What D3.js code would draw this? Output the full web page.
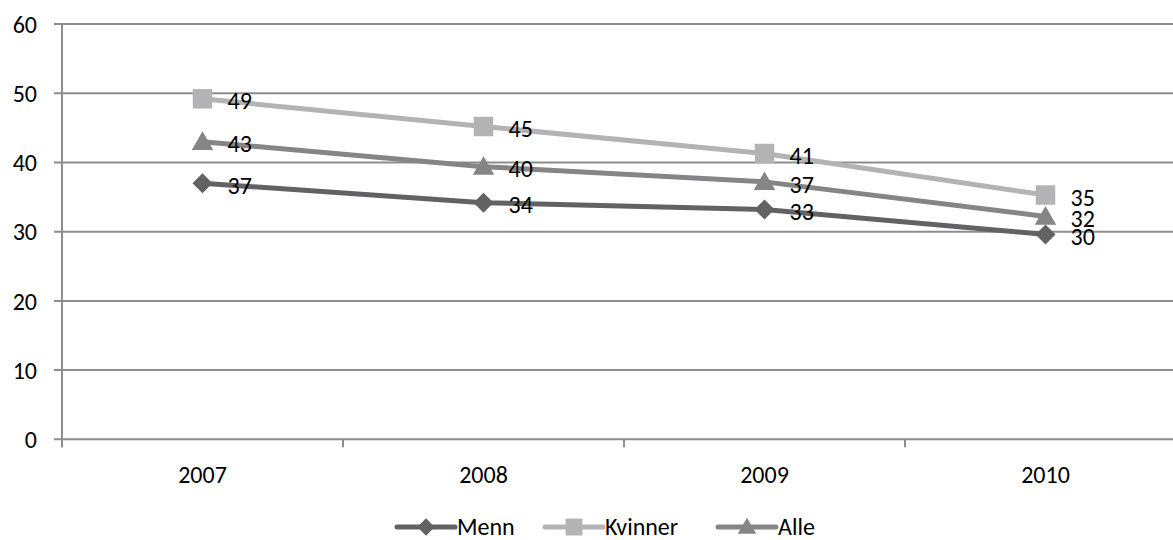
<!DOCTYPE html>
<html><head><meta charset="utf-8">
<script src="https://cdn.jsdelivr.net/npm/d3@7"></script>
<style>body{margin:0;background:#fff;overflow:hidden}svg{display:block;font-family:Carlito,Lato,sans-serif}</style>
</head><body>
<svg id="c" width="1173" height="540"></svg>
<script>
const categories = ["2007","2008","2009","2010"];
const menn = [37.0, 34.2, 33.2, 29.6];
const kvinner = [49.2, 45.2, 41.3, 35.3];
const alle = [43.0, 39.4, 37.2, 32.2];
const mennLabels = ["37","34","33","30"];
const kvinnerLabels = ["49","45","41","35"];
const alleLabels = ["43","40","37","32"];
const yTicks = [0,10,20,30,40,50,60];

const series = [
  {name:"Menn", values:menn, labels:mennLabels, color:"#626264", shape:"diamond"},
  {name:"Kvinner", values:kvinner, labels:kvinnerLabels, color:"#b3b3b5", shape:"square"},
  {name:"Alle", values:alle, labels:alleLabels, color:"#858587", shape:"triangle"}
];

const FS = 24;
const svg = d3.select("#c");
const x = d3.scaleBand().domain(categories).range([62, 1186]).padding(0);
const y = d3.scaleLinear().domain([0,60]).range([439.3, 24.1]);

// gridlines
svg.append("g").selectAll("line").data(yTicks).join("line")
  .attr("x1",54).attr("x2",1186)
  .attr("y1",d=>y(d)).attr("y2",d=>y(d))
  .attr("stroke","#8d8d8d").attr("stroke-width",2);

// y axis line
svg.append("line").attr("x1",62).attr("x2",62).attr("y1",y(60)).attr("y2",y(0)+8)
  .attr("stroke","#8d8d8d").attr("stroke-width",2);
// x tick marks
svg.append("g").selectAll("line").data(categories.concat(["end"])).join("line")
  .attr("x1",(d,i)=>62+i*x.bandwidth()).attr("x2",(d,i)=>62+i*x.bandwidth())
  .attr("y1",y(0)).attr("y2",y(0)+8)
  .attr("stroke","#8d8d8d").attr("stroke-width",2);

// y labels
svg.append("g").selectAll("text").data(yTicks).join("text")
  .attr("x",37).attr("y",d=>y(d)).attr("dy","0.36em")
  .attr("text-anchor","end").attr("font-size",FS).attr("fill","#000")
  .text(d=>d);
// x labels
svg.append("g").selectAll("text").data(categories).join("text")
  .attr("x",d=>x(d)+x.bandwidth()/2).attr("y",474).attr("dy","0.36em")
  .attr("text-anchor","middle").attr("font-size",FS).attr("fill","#000")
  .text(d=>d);

const cx = d=>x(d)+x.bandwidth()/2;
const symType = {diamond:d3.symbolSquare, square:d3.symbolSquare, triangle:d3.symbolTriangle};
const symSize = {diamond:200, square:380, triangle:200};
const symRot = {diamond:45, square:0, triangle:0};
const symDy = {diamond:0, square:0, triangle:2};

const line = d3.line().x((v,i)=>cx(categories[i])).y(v=>y(v));
series.forEach(s=>{
  svg.append("path").attr("d",line(s.values)).attr("fill","none")
    .attr("stroke",s.color).attr("stroke-width",5);
});
series.forEach(s=>{
  svg.append("g").selectAll("path").data(s.values).join("path")
    .attr("transform",(v,i)=>`translate(${cx(categories[i])},${y(v)+symDy[s.shape]}) rotate(${symRot[s.shape]})`)
    .attr("d",d3.symbol().type(symType[s.shape]).size(symSize[s.shape]))
    .attr("fill",s.color);
});
series.forEach(s=>{
  svg.append("g").selectAll("text").data(s.values).join("text")
    .attr("x",(v,i)=>cx(categories[i])+25).attr("y",v=>y(v)+2).attr("dy","0.36em")
    .attr("font-size",FS).attr("fill","#000")
    .text((v,i)=>s.labels[i]);
});

// legend
const legX = [397, 545, 718];
series.forEach((s,i)=>{
  const g = svg.append("g").attr("transform",`translate(${legX[i]},527)`);
  g.append("line").attr("x1",0).attr("x2",58).attr("y1",0).attr("y2",0)
    .attr("stroke",s.color).attr("stroke-width",5).attr("stroke-linecap","round");
  g.append("path").attr("transform",`translate(29,${symDy[s.shape]*0.7}) rotate(${symRot[s.shape]})`)
    .attr("d",d3.symbol().type(symType[s.shape]).size(symSize[s.shape]*0.75)).attr("fill",s.color);
  g.append("text").attr("x",60).attr("y",0).attr("dy","0.33em").attr("font-size",FS).attr("fill","#000").text(s.name);
});
</script>
</body></html>
